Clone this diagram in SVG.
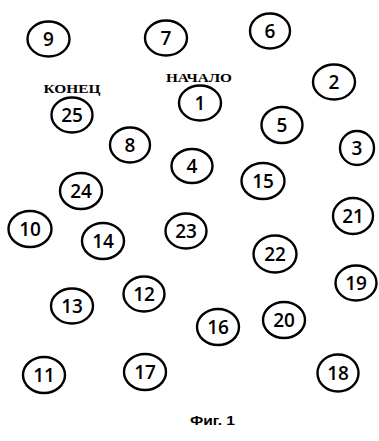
<svg xmlns="http://www.w3.org/2000/svg" width="379" height="441" viewBox="0 0 379 441">
<style>
.n ellipse{fill:#fff;stroke:#000;stroke-width:2.4}
.n text{font-family:"Open Sans","DejaVu Sans",sans-serif;font-size:19px;font-weight:600;fill:#000;text-anchor:middle}
.lbl{font-family:"Liberation Serif",serif;font-size:13px;font-weight:bold;fill:#000;text-anchor:middle}
.cap{font-family:"Liberation Sans",sans-serif;font-size:13px;font-weight:bold;fill:#000}
</style>
<rect width="379" height="441" fill="#fff"/>
<g id="connectors"></g>
<g id="n9" class="n"><ellipse cx="48.5" cy="39" rx="21" ry="17.5"/><text x="48.5" y="46">9</text></g>
<g id="n7" class="n"><ellipse cx="166" cy="38" rx="21" ry="17.5"/><text x="166" y="45">7</text></g>
<g id="n6" class="n"><ellipse cx="270" cy="31" rx="20" ry="17.5"/><text x="270" y="38">6</text></g>
<g id="n2" class="n"><ellipse cx="334" cy="82" rx="21" ry="17.5"/><text x="334" y="89">2</text></g>
<g id="n1" class="n"><ellipse cx="200" cy="103" rx="21" ry="17.5"/><text x="200" y="110">1</text></g>
<g id="n25" class="n"><ellipse cx="72" cy="115" rx="20.5" ry="17.5"/><text x="72" y="122">25</text></g>
<g id="n5" class="n"><ellipse cx="282" cy="125" rx="20.5" ry="18"/><text x="282" y="132">5</text></g>
<g id="n8" class="n"><ellipse cx="130" cy="145" rx="20" ry="17.5"/><text x="130" y="152">8</text></g>
<g id="n3" class="n"><ellipse cx="357" cy="148" rx="17" ry="17"/><text x="357" y="155">3</text></g>
<g id="n4" class="n"><ellipse cx="192" cy="166" rx="20.5" ry="17"/><text x="192" y="173">4</text></g>
<g id="n15" class="n"><ellipse cx="263" cy="181" rx="21.5" ry="18"/><text x="263" y="188">15</text></g>
<g id="n24" class="n"><ellipse cx="81" cy="191" rx="21" ry="18"/><text x="81" y="198">24</text></g>
<g id="n21" class="n"><ellipse cx="353" cy="216" rx="20" ry="18"/><text x="353" y="223">21</text></g>
<g id="n10" class="n"><ellipse cx="30" cy="229" rx="21.5" ry="18"/><text x="30" y="236">10</text></g>
<g id="n23" class="n"><ellipse cx="186" cy="231" rx="20.5" ry="17.5"/><text x="186" y="238">23</text></g>
<g id="n14" class="n"><ellipse cx="103" cy="241" rx="21" ry="18"/><text x="103" y="248">14</text></g>
<g id="n22" class="n"><ellipse cx="275" cy="254" rx="21.5" ry="18.5"/><text x="275" y="261">22</text></g>
<g id="n19" class="n"><ellipse cx="356" cy="283" rx="20.5" ry="17.5"/><text x="356" y="290">19</text></g>
<g id="n12" class="n"><ellipse cx="144" cy="294" rx="20.5" ry="17.5"/><text x="144" y="301">12</text></g>
<g id="n13" class="n"><ellipse cx="72" cy="306" rx="21" ry="17.5"/><text x="72" y="313">13</text></g>
<g id="n20" class="n"><ellipse cx="284" cy="320" rx="21" ry="18"/><text x="284" y="327">20</text></g>
<g id="n16" class="n"><ellipse cx="218" cy="327" rx="21" ry="18"/><text x="218" y="334">16</text></g>
<g id="n17" class="n"><ellipse cx="145" cy="372" rx="21" ry="18"/><text x="145" y="379">17</text></g>
<g id="n18" class="n"><ellipse cx="338" cy="373" rx="20.5" ry="18.5"/><text x="338" y="380">18</text></g>
<g id="n11" class="n"><ellipse cx="44" cy="375" rx="21" ry="18"/><text x="44" y="382">11</text></g>
<g id="labels">
<text class="lbl" x="72" y="93" textLength="57" lengthAdjust="spacingAndGlyphs">КОНЕЦ</text>
<text class="lbl" x="199" y="82" textLength="66" lengthAdjust="spacingAndGlyphs">НАЧАЛО</text>
<text class="cap" x="190" y="425" textLength="45" lengthAdjust="spacingAndGlyphs">Фиг. 1</text>
</g>
</svg>
